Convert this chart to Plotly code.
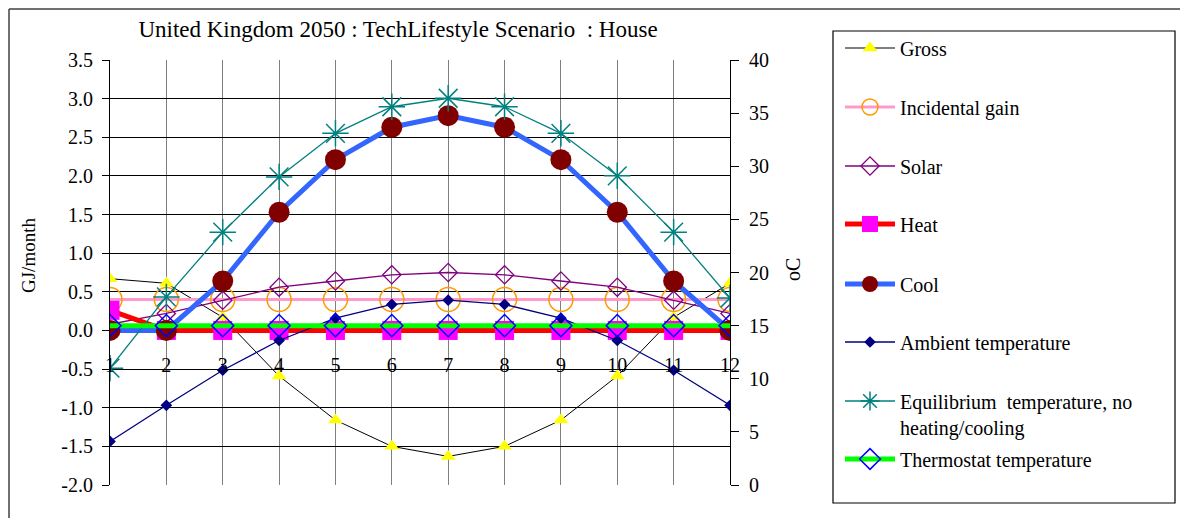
import plotly.graph_objects as go

months = [1, 2, 3, 4, 5, 6, 7, 8, 9, 10, 11, 12]
month_labels = ["1", "2", "3", "4", "5", "6", "7", "8", "9", "10", "11", "12"]
gj_ticks = [-2.0, -1.5, -1.0, -0.5, 0.0, 0.5, 1.0, 1.5, 2.0, 2.5, 3.0, 3.5]
gj_tick_labels = ["-2.0", "-1.5", "-1.0", "-0.5", "0.0", "0.5", "1.0", "1.5", "2.0", "2.5", "3.0", "3.5"]

# GJ/month (left axis)
gross = [0.67, 0.61, 0.17, -0.59, -1.16, -1.50, -1.63, -1.50, -1.16, -0.59, 0.17, 0.61]
incidental = [0.40] * 12
solar = [0.08, 0.22, 0.39, 0.56, 0.64, 0.72, 0.75, 0.72, 0.64, 0.56, 0.39, 0.22]
heat = [0.26, 0, 0, 0, 0, 0, 0, 0, 0, 0, 0, 0]
cool = [0, 0, 0.64, 1.53, 2.21, 2.63, 2.78, 2.63, 2.21, 1.53, 0.64, 0]

# oC (right axis)
ambient = [4.1, 7.5, 10.8, 13.6, 15.7, 17.0, 17.4, 17.0, 15.7, 13.6, 10.8, 7.5]
equilibrium = [11.0, 17.7, 23.8, 29.0, 33.1, 35.6, 36.4, 35.6, 33.1, 29.1, 23.8, 17.6]
thermostat = [15] * 12

FONT = "Liberation Serif"

# page body margin offset (the figure is drawn 8px in from the window edge)
OFF = 8
W, H = 1188 - OFF, 518 - OFF
# plot area in screen pixels
L, R, T, B = 110, 730, 60, 485


def px_x(x):
    return (x - L) / (R - L)


def px_y(y):
    return (B - y) / (B - T)


fig = go.Figure()

fig.add_trace(go.Scatter(x=months, y=gross, name="Gross", mode="lines+markers",
                         line=dict(color="black", width=1),
                         marker=dict(symbol="triangle-up", size=13, color="#FFFF00"),
                         legend="legend"))
fig.add_trace(go.Scatter(x=months, y=incidental, name="Incidental gain", mode="lines+markers",
                         line=dict(color="#FF99CC", width=3),
                         marker=dict(symbol="circle-open", size=24, color="#FF9900",
                                     line=dict(width=1.5)),
                         legend="legend2"))
fig.add_trace(go.Scatter(x=months, y=solar, name="Solar", mode="lines+markers",
                         line=dict(color="#800080", width=1.3),
                         marker=dict(symbol="diamond-open", size=14, color="#800080",
                                     line=dict(width=1.3)),
                         legend="legend3"))
fig.add_trace(go.Scatter(x=months, y=heat, name="Heat", mode="lines+markers",
                         line=dict(color="#FF0000", width=5),
                         marker=dict(symbol="square", size=19, color="#FF00FF"),
                         legend="legend4"))
fig.add_trace(go.Scatter(x=months, y=cool, name="Cool", mode="lines+markers",
                         line=dict(color="#3366FF", width=5),
                         marker=dict(symbol="circle", size=21, color="#800000"),
                         legend="legend5"))
fig.add_trace(go.Scatter(x=months, y=ambient, name="Ambient temperature", mode="lines+markers",
                         yaxis="y2",
                         line=dict(color="#000080", width=1.3),
                         marker=dict(symbol="diamond", size=9, color="#000080"),
                         legend="legend6"))
fig.add_trace(go.Scatter(x=months, y=equilibrium,
                         name="Equilibrium  temperature, no<br>heating/cooling",
                         mode="lines+markers", yaxis="y2",
                         line=dict(color="#008080", width=1.3),
                         marker=dict(symbol="asterisk-open", size=22, color="#008080",
                                     line=dict(width=1.5)),
                         legend="legend7"))
fig.add_trace(go.Scatter(x=months, y=thermostat, name="Thermostat temperature",
                         mode="lines+markers", yaxis="y2",
                         line=dict(color="#00FF00", width=5),
                         marker=dict(symbol="diamond-open", size=17, color="#0000FF",
                                     line=dict(width=1.5)),
                         legend="legend8"))

legend_centers = [48, 107, 166, 224, 284, 342, 414, 459]
legend_common = dict(x=px_x(840), xanchor="left", yanchor="middle",
                     bgcolor="rgba(0,0,0,0)", borderwidth=0,
                     font=dict(family=FONT, size=20, color="black"),
                     itemwidth=50, valign="top")
legend_layout = {}
for i, yc in enumerate(legend_centers):
    key = "legend" if i == 0 else f"legend{i + 1}"
    legend_layout[key] = dict(legend_common, y=px_y(yc))

tickfont = dict(family=FONT, size=20, color="black")

fig.update_layout(
    width=W, height=H, autosize=False,
    margin=dict(l=L - OFF, r=W - (R - OFF), t=T - OFF, b=H - (B - OFF), pad=0),
    paper_bgcolor="white", plot_bgcolor="white",
    showlegend=True,
    title=dict(text="United Kingdom 2050 : TechLifestyle Scenario  : House",
               x=(398 - OFF) / W, xanchor="center", xref="container",
               y=1 - (29 - OFF) / H, yanchor="middle", yref="container",
               font=dict(family=FONT, size=23, color="black")),
    xaxis=dict(range=[1, 12], tickmode="array", tickvals=months, ticktext=month_labels,
               showgrid=True, gridcolor="#808080", gridwidth=1,
               anchor="free", position=2 / 5.5, showline=False, zeroline=False,
               ticks="", tickfont=tickfont, ticklabelstandoff=21),
    yaxis=dict(range=[-2, 3.5], tickmode="array", tickvals=gj_ticks, ticktext=gj_tick_labels,
               showgrid=True, gridcolor="black", gridwidth=1, zeroline=False,
               showline=True, linecolor="black", linewidth=1,
               ticks="outside", ticklen=7, tickcolor="black",
               tickfont=tickfont, ticklabelstandoff=5),
    yaxis2=dict(range=[0, 40], dtick=5, overlaying="y", side="right", anchor="x",
                showgrid=False, zeroline=False,
                showline=True, linecolor="black", linewidth=1,
                ticks="outside", ticklen=8, tickcolor="black",
                tickfont=tickfont, ticklabelstandoff=6),
    yaxis3=dict(range=[0, 40], dtick=5, overlaying="y", side="right", anchor="x",
                showgrid=False, zeroline=False, showline=False,
                ticks="inside", ticklen=8, tickcolor="black", showticklabels=False),
    annotations=[
        dict(text="GJ/month", x=px_x(28), y=px_y(256), xref="paper", yref="paper",
             textangle=-90, showarrow=False, xanchor="center", yanchor="middle",
             font=dict(family=FONT, size=19, color="black")),
        dict(text="oC", x=px_x(793), y=px_y(270), xref="paper", yref="paper",
             textangle=-90, showarrow=False, xanchor="center", yanchor="middle",
             font=dict(family=FONT, size=20, color="black")),
    ],
    shapes=[
        # legend box
        dict(type="rect", xref="paper", yref="paper",
             x0=px_x(833), x1=px_x(1175), y0=px_y(503), y1=px_y(31),
             line=dict(color="black", width=1.2), fillcolor="rgba(0,0,0,0)"),
        # outer chart frame (top and left edges visible)
        dict(type="line", xref="paper", yref="paper",
             x0=px_x(9), x1=px_x(1200), y0=px_y(9), y1=px_y(9),
             line=dict(color="#404040", width=1.5)),
        dict(type="line", xref="paper", yref="paper",
             x0=px_x(9), x1=px_x(9), y0=px_y(9), y1=px_y(530),
             line=dict(color="#404040", width=1.5)),
    ],
    **legend_layout,
)

fig.write_html("out.html")
